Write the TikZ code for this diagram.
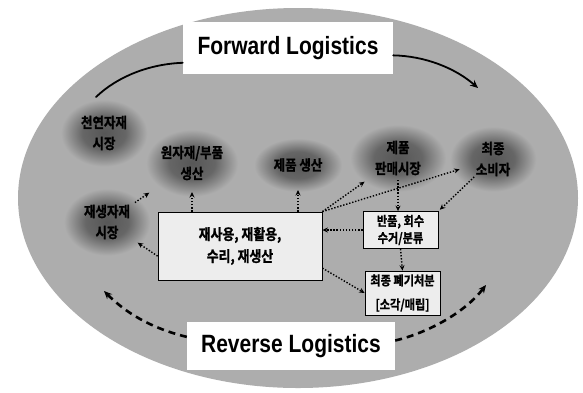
\documentclass[tikz,border=0pt]{standalone}
\usepackage{fontspec}
\newfontfamily\kr[FakeStretch=0.86,FakeBold=1.2]{Noto Sans CJK KR Bold}
\newfontfamily\en[FakeStretch=0.84]{Liberation Sans Bold}
\usetikzlibrary{arrows.meta,shapes.geometric}
\definecolor{field}{gray}{0.68}
% soft dark spot: the 25bp circle meets the shape border
\pgfdeclareradialshading{blobshade}{\pgfpoint{0bp}{0bp}}{color(0bp)=(black!66);color(12bp)=(black!60);color(24bp)=(field);color(50bp)=(field)}
\tikzset{
  blob/.style={ellipse, shade, shading=blobshade, inner sep=0pt, align=center,
    font=\kr\fontsize{14.5pt}{21pt}\selectfont},
  stagebox/.style={draw=black, line width=0.8pt, fill=black!7, align=center, inner sep=0pt,
    font=\kr\fontsize{13pt}{17pt}\selectfont},
  banner/.style={fill=white, inner sep=0pt, text height=18pt, text depth=5pt,
    font=\en\fontsize{25pt}{25pt}\selectfont},
  flow/.style={line width=1.4pt, dash pattern=on 1.4pt off 1.7pt,
    -{Stealth[length=5.5pt,width=5pt]}},
  fwdarc/.style={line width=1.8pt, line cap=round},
  revarc/.style={line width=2.6pt, dash pattern=on 7pt off 5pt,
    -{Stealth[length=8pt,width=7pt]}}
}
\begin{document}
\begin{tikzpicture}[x=1pt,y=-1pt]
\useasboundingbox (0,0) rectangle (583,392);
\fill[white] (0,0) rectangle (583,392);
% logistics field
\fill[field] (298,198) ellipse [x radius=280, y radius=190];

% markets and stages
\node[blob, minimum width=90pt, minimum height=70pt] (natmkt) at (104,133) {천연자재\\시장};
\node[blob, minimum width=96pt, minimum height=70pt] (raw) at (192,163) {원자재/부품\\생산};
\node[blob, minimum width=92pt, minimum height=56pt] (prod) at (298,165) {제품 생산};
\node[blob, minimum width=100pt, minimum height=70pt] (sales) at (398,158) {제품\\판매시장};
\node[blob, minimum width=90pt, minimum height=68pt] (cons) at (493,159) {최종\\소비자};
\node[blob, minimum width=90pt, minimum height=70pt] (recmkt) at (107,222) {재생자재\\시장};

\node[stagebox, minimum width=164pt, minimum height=68pt,
      font=\kr\fontsize{15pt}{22pt}\selectfont] (reuse) at (240,246) {재사용, 재활용,\\수리, 재생산};
\node[stagebox, minimum width=75pt, minimum height=37pt] (ret) at (400.5,230) {반품, 회수\\수거/분류};
\node[stagebox, minimum width=75pt, minimum height=44pt,
      font=\kr\fontsize{13pt}{24pt}\selectfont] (disp) at (402.5,293) {최종 폐기처분\\{[}소각/매립{]}};

% banners
\node[banner, minimum width=210pt, minimum height=52pt] (fwd) at (288,48) {Forward Logistics};
\node[banner, minimum width=208pt, minimum height=48pt] (rev) at (291,346) {Reverse Logistics};

% arc ends
\coordinate (fl) at (96,97);
\coordinate (fr) at (478,88);
\coordinate (rl) at (104,291);
\coordinate (rr) at (486,285);

% forward and reverse arcs
\draw[fwdarc] (fl) .. controls (118,76) and (150,64) .. (fwd.188);
\draw[fwdarc, -{Stealth[length=8pt,width=7pt]}] (fwd.-4) .. controls (425,56) and (455,68) .. (fr);
\draw[revarc] (rev.175) .. controls (150,328) and (125,312) .. (rl);
\draw[revarc] (rev.3) .. controls (430,332) and (465,312) .. (rr);

% material flows
\draw[flow, shorten <=34pt, shorten >=52pt] (recmkt.center) -- (raw.center);
\draw[flow, shorten >=37pt] (reuse.187) -- (recmkt.center);
\draw[flow, shorten >=29pt] (reuse.north -| raw) -- (raw.center);
\draw[flow, shorten >=25pt] (reuse.north -| prod) -- (prod.center);
\draw[flow, shorten >=41pt] (reuse.north east) -- (sales.center);
\draw[flow, shorten >=35pt] (reuse.north east) -- (cons.center);
\draw[flow, shorten <=22pt] (sales.center) -- (sales.center |- ret.north);
\draw[flow, shorten <=26pt, shorten >=2pt] (cons.center) -- (ret.north east);
\draw[flow] (ret.west) -- (ret.west -| reuse.east);
\draw[flow] (ret.south) -- (disp.north);
\draw[flow] (reuse.-15) -- (disp.west);
\end{tikzpicture}
\end{document}
